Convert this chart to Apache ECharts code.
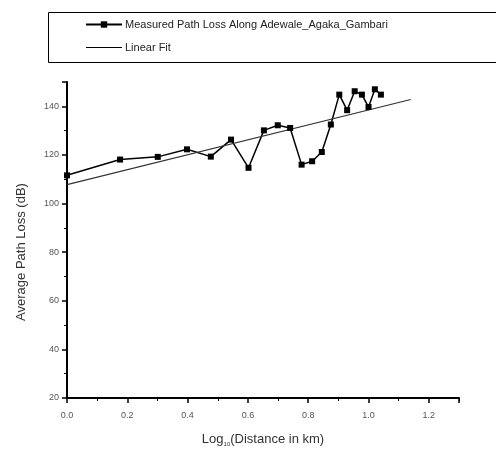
<!DOCTYPE html>
<html><head><meta charset="utf-8">
<script src="https://cdn.jsdelivr.net/npm/echarts@6/dist/echarts.min.js"></script>
<style>html,body{margin:0;padding:0;background:#fff}#c{width:496px;height:451px}</style>
</head><body><div id="c"></div>
<script>
const logDistance = [0.0, 0.176, 0.301, 0.398, 0.477, 0.544, 0.602, 0.653, 0.699, 0.740, 0.778, 0.813, 0.845, 0.875, 0.903, 0.929, 0.954, 0.978, 1.0, 1.021, 1.041];
const pathLoss    = [111.6, 118.1, 119.2, 122.3, 119.3, 126.3, 114.7, 130.1, 132.2, 131.1, 116.0, 117.4, 121.2, 132.5, 144.8, 138.4, 146.2, 144.8, 139.7, 147.0, 144.8];
const fitX = [0.0, 1.14];
const fitY = [107.8, 142.8];
const seriesNames = ['Measured Path Loss Along Adewale_Agaka_Gambari', 'Linear Fit'];

const chart = echarts.init(document.getElementById('c'));
chart.setOption({
  animation: false,
  backgroundColor: '#fff',
  textStyle: {fontFamily: 'Liberation Sans, Arial, sans-serif'},
  graphic: [{type: 'rect', left: 46, top: 10, shape: {width: 449, height: 50}, style: {fill: 'none', stroke: '#000', lineWidth: 1}}],
  legend: {
    orient: 'vertical', left: 80, top: 14, itemGap: 12, itemWidth: 36, itemHeight: 8,
    textStyle: {fontSize: 11, color: '#222', padding: [0,0,0,-2]},
    data: [
      {name: seriesNames[0]},
      {name: seriesNames[1], icon: 'path://M0,0L0.01,0L0,0.01Z M0,3.5H36V4.6H0Z M0,8L0.01,8L0,7.99Z', itemStyle: {color: '#000'}}
    ]
  },
  grid: {left: 67, right: 37, top: 82, bottom: 53, outerBoundsMode: 'none', containLabel: false},
  xAxis: {
    type: 'value', min: 0, max: 1.3, interval: 0.2,
    name: 'Log{s|10}(Distance in km)', nameLocation: 'middle', nameGap: 34,
    nameTextStyle: {fontSize: 13, color: '#333', rich: {s: {fontSize: 6, color: '#333', verticalAlign: 'bottom', padding: [9,0,0,0]}}},
    axisLine: {lineStyle: {color: '#000', width: 2}},
    axisTick: {show: true, inside: false, length: 5, lineStyle: {color: '#000', width: 1.5}},
    minorTick: {show: true, splitNumber: 2, length: 3, lineStyle: {color: '#000'}},
    axisLabel: {fontSize: 9, color: '#555', margin: 13, formatter: v => v.toFixed(1), showMaxLabel: false},
    splitLine: {show: false}
  },
  yAxis: {
    type: 'value', min: 20, max: 150, interval: 20,
    name: 'Average Path Loss (dB)', nameLocation: 'middle', nameGap: 39,
    nameTextStyle: {fontSize: 13, color: '#333', padding: [0, 24, 0, 0]},
    axisLine: {show: true, lineStyle: {color: '#000', width: 2}},
    axisTick: {show: true, inside: false, length: 5, lineStyle: {color: '#000', width: 1.5}},
    minorTick: {show: true, splitNumber: 2, length: 3, lineStyle: {color: '#000'}},
    axisLabel: {fontSize: 9, color: '#555', margin: 8, showMaxLabel: false},
    splitLine: {show: false}
  },
  series: [
    {
      name: seriesNames[0], type: 'line',
      data: logDistance.map((x, i) => [x, pathLoss[i]]),
      symbol: 'rect', symbolSize: 6, showAllSymbol: true,
      lineStyle: {color: '#000', width: 1.5},
      itemStyle: {color: '#000'}
    },
    {
      name: seriesNames[1], type: 'line',
      data: fitX.map((x, i) => [x, fitY[i]]),
      symbol: 'none',
      lineStyle: {color: '#333', width: 1.2},
      itemStyle: {color: '#333'}
    }
  ]
});
</script></body></html>
